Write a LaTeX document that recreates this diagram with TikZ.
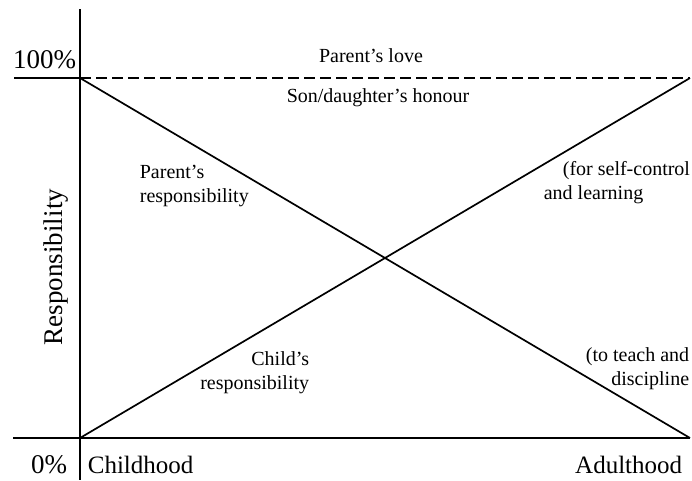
\documentclass[tikz,border=0pt]{standalone}
\usepackage{fontspec}
\setmainfont{Liberation Serif}

\begin{document}
\begin{tikzpicture}[x=1pt,y=-1pt,line width=1.7pt,
  every node/.style={inner sep=0pt,font=\fontsize{20}{24}\selectfont},
  big/.style={font=\fontsize{27}{32}\selectfont},
  mid/.style={font=\fontsize{25}{30}\selectfont}]
\useasboundingbox (0,0) rectangle (692,480);
% corners of the chart
\coordinate (O) at (80,438);
\coordinate (T) at (80,78);
\coordinate (TR) at (690,78);
\coordinate (BR) at (690,438);
\coordinate (ytop) at (80,9);
\coordinate (ybot) at (80,480);
\coordinate (xl) at (13,438);
\coordinate (tl) at (14,78);

% axes
\draw (ytop) -- (ybot);
\draw (xl) -- (BR);
\draw (tl) -- (T);
\draw[dash pattern=on 11pt off 5pt] (T) -- (TR);

% the two responsibility lines
\draw (T) -- (BR);
\draw (O) -- (TR);

% axis texts
\node[big, anchor=base east] (full) at (77,68) {100\%};
\node[big, anchor=base east] (zero) at (68,473) {0\%};
\node[big, rotate=90, anchor=base] (resp) at (62,267) {Responsibility};
\node[mid, anchor=base west] (child) at (87,473) {Childhood};
\node[mid, anchor=base east] (adult) at (683,473) {Adulthood};

% line texts (base = last line)
\node[anchor=base] (love) at (371,62) {Parent's love};
\node[anchor=base] (honour) at (378,102) {Son/daughter's honour};
\node[anchor=base west, align=left] (presp) at (139,202) {Parent's\\responsibility};
\node[anchor=base east, align=right] (cresp) at (310,389) {Child's\\responsibility};
\node[anchor=base west, align=left] (selfc) at (562,199) {(for self-control\\\hspace*{-19pt}and learning};
\node[anchor=base east, align=right] (teach) at (690,385) {(to teach and\\discipline};
\end{tikzpicture}
\end{document}
